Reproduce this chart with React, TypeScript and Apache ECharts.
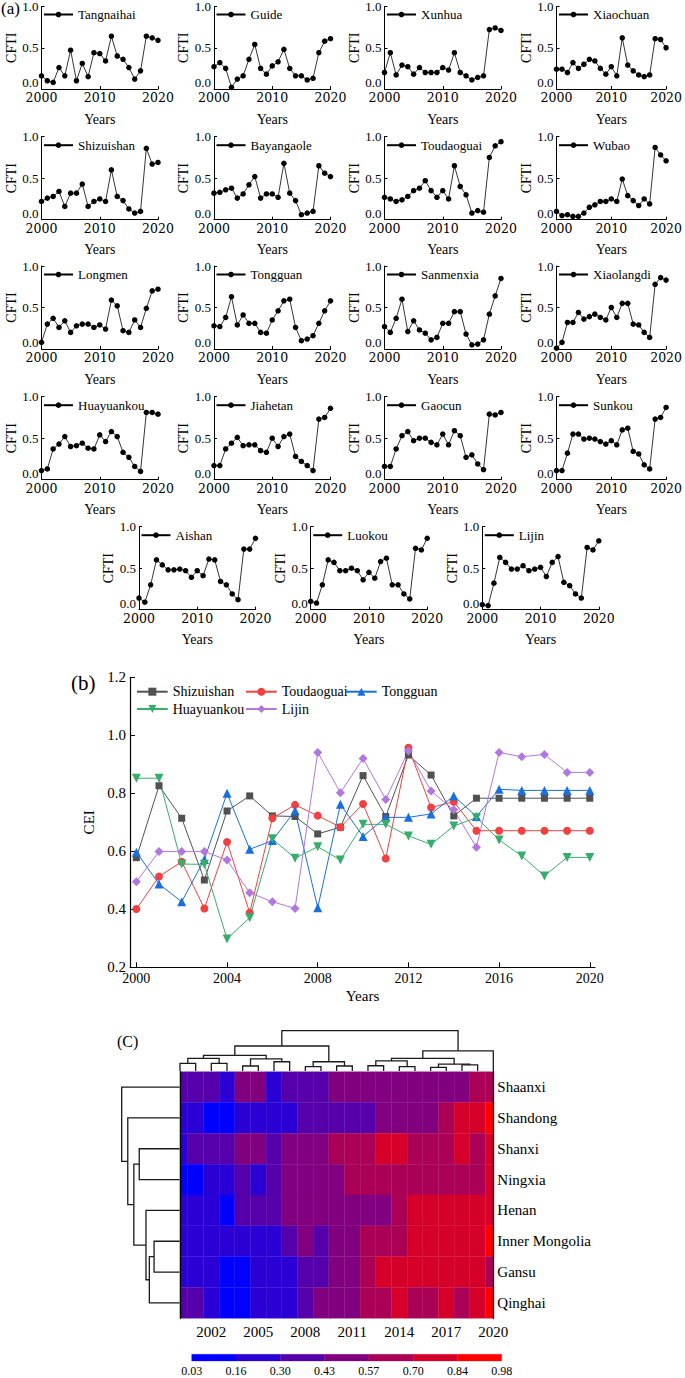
import React, { useEffect, useRef } from "react";
import * as echarts from "echarts";

const FONT = "'Liberation Serif', 'Times New Roman', serif";

const YEARS = [2000, 2001, 2002, 2003, 2004, 2005, 2006, 2007, 2008, 2009, 2010, 2011, 2012, 2013, 2014, 2015, 2016, 2017, 2018, 2019, 2020];

// (a) CFTI per station
const TANGNAIHAI = [0.16, 0.10, 0.08, 0.26, 0.16, 0.47, 0.10, 0.31, 0.15, 0.44, 0.43, 0.34, 0.64, 0.40, 0.36, 0.26, 0.12, 0.22, 0.64, 0.62, 0.59];
const GUIDE = [0.27, 0.32, 0.25, 0.02, 0.12, 0.16, 0.36, 0.54, 0.25, 0.18, 0.28, 0.33, 0.48, 0.25, 0.16, 0.16, 0.11, 0.13, 0.44, 0.58, 0.61];
const XUNHUA = [0.20, 0.44, 0.17, 0.29, 0.27, 0.18, 0.26, 0.20, 0.20, 0.20, 0.26, 0.23, 0.44, 0.20, 0.16, 0.11, 0.14, 0.16, 0.72, 0.74, 0.71];
const XIAOCHUAN = [0.24, 0.24, 0.20, 0.32, 0.25, 0.30, 0.36, 0.34, 0.25, 0.18, 0.27, 0.16, 0.62, 0.29, 0.22, 0.17, 0.15, 0.17, 0.61, 0.60, 0.50];
const SHIZUISHAN = [0.22, 0.26, 0.28, 0.34, 0.16, 0.32, 0.32, 0.43, 0.16, 0.22, 0.25, 0.22, 0.60, 0.28, 0.23, 0.13, 0.08, 0.10, 0.86, 0.67, 0.69];
const BAYANGAOLE = [0.32, 0.33, 0.36, 0.38, 0.26, 0.31, 0.42, 0.52, 0.26, 0.31, 0.31, 0.27, 0.68, 0.32, 0.23, 0.06, 0.08, 0.10, 0.65, 0.56, 0.52];
const TOUDAOGUAI = [0.27, 0.25, 0.22, 0.24, 0.28, 0.35, 0.38, 0.47, 0.35, 0.27, 0.35, 0.25, 0.65, 0.40, 0.30, 0.08, 0.11, 0.09, 0.75, 0.89, 0.94];
const WUBAO = [0.10, 0.05, 0.06, 0.04, 0.04, 0.08, 0.15, 0.18, 0.22, 0.22, 0.25, 0.22, 0.49, 0.29, 0.23, 0.17, 0.25, 0.19, 0.87, 0.78, 0.71];
const LONGMEN = [0.08, 0.30, 0.37, 0.26, 0.34, 0.20, 0.28, 0.30, 0.30, 0.26, 0.29, 0.24, 0.59, 0.52, 0.22, 0.20, 0.35, 0.26, 0.49, 0.70, 0.72];
const TONGGUAN = [0.28, 0.27, 0.38, 0.63, 0.29, 0.41, 0.31, 0.31, 0.20, 0.19, 0.35, 0.46, 0.58, 0.60, 0.26, 0.10, 0.12, 0.16, 0.31, 0.46, 0.58];
const SANMENXIA = [0.27, 0.20, 0.37, 0.60, 0.21, 0.34, 0.23, 0.19, 0.11, 0.14, 0.31, 0.31, 0.45, 0.45, 0.18, 0.05, 0.06, 0.11, 0.42, 0.64, 0.85];
const XIAOLANGDI = [0.01, 0.08, 0.32, 0.32, 0.44, 0.36, 0.39, 0.42, 0.38, 0.35, 0.50, 0.38, 0.55, 0.55, 0.30, 0.29, 0.20, 0.14, 0.78, 0.86, 0.83];
const HUAYUANKOU = [0.11, 0.13, 0.37, 0.43, 0.52, 0.40, 0.41, 0.44, 0.38, 0.37, 0.54, 0.46, 0.58, 0.52, 0.33, 0.27, 0.16, 0.10, 0.81, 0.81, 0.79];
const JIAHETAN = [0.17, 0.17, 0.37, 0.44, 0.51, 0.41, 0.42, 0.42, 0.35, 0.33, 0.50, 0.40, 0.52, 0.55, 0.28, 0.22, 0.17, 0.11, 0.73, 0.75, 0.86];
const GAOCUN = [0.16, 0.16, 0.37, 0.53, 0.58, 0.47, 0.50, 0.50, 0.45, 0.42, 0.55, 0.42, 0.59, 0.53, 0.27, 0.30, 0.19, 0.12, 0.79, 0.78, 0.81];
const SUNKOU = [0.11, 0.11, 0.32, 0.55, 0.55, 0.49, 0.50, 0.49, 0.46, 0.43, 0.47, 0.42, 0.60, 0.62, 0.34, 0.31, 0.18, 0.13, 0.73, 0.75, 0.87];
const AISHAN = [0.14, 0.09, 0.30, 0.60, 0.54, 0.48, 0.48, 0.49, 0.47, 0.39, 0.47, 0.41, 0.61, 0.60, 0.34, 0.30, 0.19, 0.12, 0.73, 0.73, 0.86];
const LUOKOU = [0.10, 0.08, 0.30, 0.60, 0.57, 0.47, 0.47, 0.50, 0.47, 0.36, 0.45, 0.38, 0.58, 0.62, 0.30, 0.30, 0.19, 0.13, 0.74, 0.72, 0.86];
const LIJIN = [0.06, 0.05, 0.32, 0.63, 0.57, 0.49, 0.49, 0.53, 0.47, 0.49, 0.51, 0.40, 0.57, 0.64, 0.33, 0.29, 0.19, 0.14, 0.75, 0.72, 0.83];

const SMALL_NAMES = ["Tangnaihai", "Guide", "Xunhua", "Xiaochuan", "Shizuishan", "Bayangaole", "Toudaoguai", "Wubao", "Longmen", "Tongguan", "Sanmenxia", "Xiaolangdi", "Huayuankou", "Jiahetan", "Gaocun", "Sunkou", "Aishan", "Luokou", "Lijin"];
const SMALL_DATA = [TANGNAIHAI, GUIDE, XUNHUA, XIAOCHUAN, SHIZUISHAN, BAYANGAOLE, TOUDAOGUAI, WUBAO, LONGMEN, TONGGUAN, SANMENXIA, XIAOLANGDI, HUAYUANKOU, JIAHETAN, GAOCUN, SUNKOU, AISHAN, LUOKOU, LIJIN];

// (b) CEI
const CEI_NAMES = ["Shizuishan", "Toudaoguai", "Tongguan", "Huayuankou", "Lijin"];
const CEI_SHIZUISHAN = [0.578, 0.826, 0.714, 0.501, 0.739, 0.791, 0.722, 0.720, 0.660, 0.683, 0.861, 0.720, 0.932, 0.863, 0.722, 0.783, 0.783, 0.783, 0.783, 0.783, 0.783];
const CEI_TOUDAOGUAI = [0.401, 0.513, 0.564, 0.403, 0.632, 0.388, 0.714, 0.760, 0.723, 0.683, 0.763, 0.575, 0.957, 0.751, 0.771, 0.671, 0.671, 0.671, 0.671, 0.671, 0.671];
const CEI_TONGGUAN = [0.597, 0.487, 0.426, 0.572, 0.800, 0.607, 0.637, 0.740, 0.405, 0.762, 0.651, 0.717, 0.717, 0.729, 0.791, 0.720, 0.814, 0.810, 0.810, 0.810, 0.810];
const CEI_HUAYUANKOU = [0.852, 0.852, 0.556, 0.555, 0.298, 0.371, 0.643, 0.576, 0.616, 0.570, 0.693, 0.693, 0.653, 0.624, 0.687, 0.716, 0.639, 0.584, 0.515, 0.579, 0.579];
const CEI_LIJIN = [0.495, 0.599, 0.599, 0.599, 0.570, 0.457, 0.426, 0.403, 0.941, 0.802, 0.920, 0.779, 0.946, 0.808, 0.743, 0.614, 0.941, 0.926, 0.934, 0.872, 0.872];
const CEI_DATA = [CEI_SHIZUISHAN, CEI_TOUDAOGUAI, CEI_TONGGUAN, CEI_HUAYUANKOU, CEI_LIJIN];
const CEI_COLORS = ["#515151", "#F14040", "#1A6FDF", "#37AD6B", "#B177DE"];
const CEI_SYMBOLS = ["rect", "circle", "triangle", "triangle", "diamond"];
const CEI_ROTATE = [0, 0, 0, 180, 0];
const CEI_SIZES = [7, 8, 9, 9, 9];
const CEI_TICKS = [2000, 2004, 2008, 2012, 2016, 2020];

// (c) heatmap
const PROVINCES = ["Shaanxi", "Shandong", "Shanxi", "Ningxia", "Henan", "Inner Mongolia", "Gansu", "Qinghai"];
const HEAT_SHAANXI = [0.37, 0.36, 0.38, 0.24, 0.50, 0.52, 0.22, 0.36, 0.38, 0.39, 0.48, 0.50, 0.51, 0.49, 0.52, 0.50, 0.53, 0.51, 0.55, 0.62, 0.60];
const HEAT_SHANDONG = [0.22, 0.24, 0.10, 0.08, 0.21, 0.23, 0.25, 0.27, 0.34, 0.35, 0.37, 0.38, 0.40, 0.46, 0.49, 0.51, 0.54, 0.64, 0.76, 0.79, 0.93];
const HEAT_SHANXI = [0.27, 0.36, 0.38, 0.40, 0.47, 0.50, 0.40, 0.48, 0.51, 0.54, 0.62, 0.64, 0.66, 0.75, 0.78, 0.66, 0.64, 0.68, 0.76, 0.67, 0.72];
const HEAT_NINGXIA = [0.05, 0.12, 0.20, 0.25, 0.33, 0.26, 0.35, 0.45, 0.48, 0.50, 0.55, 0.60, 0.62, 0.63, 0.65, 0.66, 0.64, 0.67, 0.68, 0.66, 0.72];
const HEAT_HENAN = [0.18, 0.20, 0.24, 0.12, 0.33, 0.36, 0.40, 0.45, 0.47, 0.49, 0.51, 0.52, 0.53, 0.55, 0.63, 0.72, 0.74, 0.76, 0.78, 0.80, 0.82];
const HEAT_INNER_MONGOLIA = [0.17, 0.19, 0.21, 0.22, 0.24, 0.26, 0.28, 0.38, 0.46, 0.40, 0.49, 0.54, 0.60, 0.64, 0.68, 0.72, 0.75, 0.77, 0.79, 0.82, 0.90];
const HEAT_GANSU = [0.20, 0.22, 0.24, 0.05, 0.10, 0.18, 0.24, 0.28, 0.34, 0.41, 0.47, 0.54, 0.66, 0.72, 0.75, 0.77, 0.79, 0.81, 0.80, 0.78, 0.66];
const HEAT_QINGHAI = [0.32, 0.35, 0.25, 0.04, 0.06, 0.18, 0.22, 0.27, 0.37, 0.45, 0.50, 0.55, 0.60, 0.65, 0.74, 0.68, 0.62, 0.73, 0.66, 0.79, 0.92];
const HEAT_ROWS = [HEAT_SHAANXI, HEAT_SHANDONG, HEAT_SHANXI, HEAT_NINGXIA, HEAT_HENAN, HEAT_INNER_MONGOLIA, HEAT_GANSU, HEAT_QINGHAI];
const HEAT_TICKS = [2002, 2005, 2008, 2011, 2014, 2017, 2020];
const COLORBAR_LABELS = ["0.03", "0.16", "0.30", "0.43", "0.57", "0.70", "0.84", "0.98"];
const COLORBAR_COLORS = ["#0000ff", "#2a00d5", "#5500aa", "#800080", "#aa0055", "#d5002a", "#ff0000"];

// dendrograms: [childA, childB, height]; ids < leaf count are leaves
const COL_MERGES = [
  [0, 1, 0.19], [2, 3, 0.19], [4, 5, 0.124], [6, 7, 0.23], [21, 22, 0.315], [23, 24, 0.3],
  [25, 26, 0.39], [8, 9, 0.107], [10, 11, 0.124], [28, 29, 0.23], [27, 30, 0.62],
  [12, 13, 0.13], [14, 15, 0.107], [32, 33, 0.25], [16, 17, 0.09], [18, 19, 0.15],
  [35, 36, 0.17], [34, 37, 0.315], [38, 20, 0.5], [31, 39, 1.0],
];
const ROW_MERGES = [
  [2, 3, 120], [5, 6, 76], [9, 7, 90], [4, 10, 100], [8, 11, 136], [1, 12, 154], [0, 13, 172],
];

function buildLinks(merges: number[][], leafPos: number[]) {
  const pos = [...leafPos];
  const hts = leafPos.map(() => 0);
  const links: number[][] = [];
  merges.forEach(([a, b, h]) => {
    links.push([pos[a], hts[a], pos[b], hts[b], h]);
    pos.push((pos[a] + pos[b]) / 2);
    hts.push(h);
  });
  return links;
}

function binColor(v: number) {
  const thr = COLORBAR_LABELS.map(Number);
  for (let i = 0; i < COLORBAR_COLORS.length; i++) {
    if (v < thr[i + 1]) return COLORBAR_COLORS[i];
  }
  return COLORBAR_COLORS[COLORBAR_COLORS.length - 1];
}

// layout
const COL_LEFTS = [41.5, 214, 384.5, 556.5];
const ROW5_LEFTS = [139, 310.7, 482.3];
const ROW_TOPS = [6, 136.7, 266, 396.7, 526.7];
const SMALL_W = 116.5;
const SMALL_H = 83;

function buildOption() {
  const grid: any[] = [];
  const xAxis: any[] = [];
  const yAxis: any[] = [];
  const series: any[] = [];
  const legend: any[] = [];

  SMALL_NAMES.forEach((name, i) => {
    const row = Math.floor(i / 4);
    const left = row < 4 ? COL_LEFTS[i % 4] : ROW5_LEFTS[i - 16];
    const top = ROW_TOPS[row];
    grid.push({ left, top, width: SMALL_W, height: SMALL_H });
    xAxis.push({
      gridIndex: i, type: "value", min: 2000, max: 2020, interval: 10,
      name: "Years", nameLocation: "middle", nameGap: 23,
      nameTextStyle: { fontFamily: FONT, fontSize: 14, color: "#000" },
      axisLine: { onZero: false, lineStyle: { color: "#000", width: 1 } },
      axisTick: { inside: true, length: 3, lineStyle: { color: "#000" } },
      axisLabel: { fontFamily: "'DejaVu Serif', serif", fontSize: 12.5, color: "#000", margin: 2, formatter: (v: number) => String(v) },
      splitLine: { show: false },
    });
    yAxis.push({
      gridIndex: i, type: "value", min: 0, max: 1, interval: 0.5,
      name: "CFTI", nameLocation: "middle", nameGap: 22, nameRotate: 90,
      nameTextStyle: { fontFamily: FONT, fontSize: 14, color: "#000" },
      axisLine: { show: true, lineStyle: { color: "#000", width: 1 } },
      axisTick: { show: true, inside: true, length: 3, lineStyle: { color: "#000" } },
      axisLabel: {
        fontFamily: FONT, fontSize: 13, color: "#000", margin: 3,
        verticalAlignMinLabel: "bottom",
        formatter: (v: number) => v.toFixed(1),
      },
      splitLine: { show: false },
    });
    series.push({
      type: "line", name: "a:" + name, xAxisIndex: i, yAxisIndex: i,
      data: YEARS.map((y, k) => [y, SMALL_DATA[i][k]]),
      symbol: "circle", symbolSize: 5.5, showSymbol: true,
      lineStyle: { color: "#000", width: 0.8 }, itemStyle: { color: "#000" },
      silent: true,
    });
    legend.push({
      data: ["a:" + name], left: left + 1.5, top: top + 2, padding: 0,
      itemWidth: 29, itemHeight: 7, selectedMode: false,
      formatter: (n: string) => n.slice(2),
      textStyle: { fontFamily: FONT, fontSize: 13, color: "#000" },
    });
  });

  // (b)
  const gb = grid.length;
  grid.push({ left: 130, top: 677.3, width: 465, height: 290 });
  xAxis.push({
    gridIndex: gb, type: "value", min: 1999.72, max: 2020.23,
    name: "Years", nameLocation: "middle", nameGap: 21,
    nameTextStyle: { fontFamily: FONT, fontSize: 15, color: "#000" },
    axisLine: { onZero: false, lineStyle: { color: "#000", width: 1.2 } },
    axisTick: { inside: true, length: 5, customValues: CEI_TICKS, lineStyle: { color: "#000" } },
    axisLabel: { fontFamily: FONT, fontSize: 14, color: "#000", margin: 4, customValues: CEI_TICKS, formatter: (v: number) => String(v) },
    splitLine: { show: false },
  });
  yAxis.push({
    gridIndex: gb, type: "value", min: 0.2, max: 1.2, interval: 0.2,
    name: "CEI", nameLocation: "middle", nameGap: 28, nameRotate: 90,
    nameTextStyle: { fontFamily: FONT, fontSize: 15, color: "#000" },
    axisLine: { show: true, lineStyle: { color: "#000", width: 1.2 } },
    axisTick: { show: true, inside: true, length: 5, lineStyle: { color: "#000" } },
    axisLabel: { fontFamily: FONT, fontSize: 15, color: "#000", margin: 4, formatter: (v: number) => v.toFixed(1) },
    splitLine: { show: false },
  });
  const LEG_POS = [[136, 691.7], [245, 691.7], [345, 691.7], [136, 709], [245, 709]];
  CEI_NAMES.forEach((name, i) => {
    series.push({
      type: "line", name: "b:" + name, xAxisIndex: gb, yAxisIndex: gb,
      data: YEARS.map((y, k) => [y, CEI_DATA[i][k]]),
      symbol: CEI_SYMBOLS[i], symbolSize: CEI_SIZES[i], symbolRotate: CEI_ROTATE[i], showSymbol: true,
      lineStyle: { color: CEI_COLORS[i], width: 1 }, itemStyle: { color: CEI_COLORS[i] },
      silent: true,
    });
    legend.push({
      data: ["b:" + name], left: LEG_POS[i][0], top: LEG_POS[i][1] - 7, padding: 0,
      itemWidth: 30.7, itemHeight: 10, selectedMode: false,
      formatter: (n: string) => n.slice(2),
      textStyle: { fontFamily: FONT, fontSize: 14, color: "#000" },
    });
  });

  // (c) heatmap
  const gh = grid.length;
  grid.push({ left: 180, top: 1071.7, width: 313.3, height: 246.6 });
  const xh = xAxis.length;
  xAxis.push({
    gridIndex: gh, type: "value", min: 2000, max: 2020, interval: 1, position: "bottom", z: 10,
    axisLine: { onZero: false, lineStyle: { color: "#000", width: 1.3 } },
    axisTick: { show: false }, splitLine: { show: false },
    axisLabel: { fontFamily: FONT, fontSize: 15, color: "#000", margin: 6, formatter: (v: number) => (HEAT_TICKS.includes(v) ? String(v) : "") },
  });
  xAxis.push({
    gridIndex: gh, type: "value", min: 2000, max: 2020, position: "top", z: 10,
    axisLine: { onZero: false, lineStyle: { color: "#000", width: 1.3 } },
    axisTick: { show: false }, axisLabel: { show: false }, splitLine: { show: false },
  });
  const yh = yAxis.length;
  yAxis.push({
    gridIndex: gh, type: "category", data: PROVINCES, inverse: true, position: "right", z: 10,
    axisLine: { show: true, onZero: false, lineStyle: { color: "#000", width: 1.3 } },
    axisTick: { show: false }, splitLine: { show: false },
    axisLabel: { fontFamily: FONT, fontSize: 15, color: "#000", margin: 4 },
  });
  yAxis.push({
    gridIndex: gh, type: "category", data: PROVINCES, inverse: true, position: "left", z: 10,
    axisLine: { show: true, onZero: false, lineStyle: { color: "#000", width: 1.3 } },
    axisTick: { show: false }, axisLabel: { show: false }, splitLine: { show: false },
  });
  const heatData: number[][] = [];
  HEAT_ROWS.forEach((row, r) => row.forEach((v, k) => heatData.push([YEARS[k], r, v])));
  series.push({
    type: "custom", xAxisIndex: xh, yAxisIndex: yh, data: heatData, silent: true,
    renderItem: (params: any, api: any) => {
      const c = api.coord([api.value(0), api.value(1)]);
      const s = api.size([1, 1]);
      const cs = params.coordSys;
      const rect = echarts.graphic.clipRectByRect(
        { x: c[0] - s[0] / 2, y: c[1] - s[1] / 2, width: s[0], height: s[1] },
        { x: cs.x, y: cs.y, width: cs.width, height: cs.height }
      );
      if (!rect) return null;
      const col = binColor(api.value(2));
      return { type: "rect", shape: rect, style: { fill: col, stroke: col, lineWidth: 0.3 } };
    },
  });

  // top dendrogram
  const gt = grid.length;
  grid.push({ left: 180, top: 1030.7, width: 313.3, height: 40.3 });
  const xt = xAxis.length;
  xAxis.push({ gridIndex: gt, type: "value", min: 2000, max: 2020, show: false });
  const yt = yAxis.length;
  yAxis.push({ gridIndex: gt, type: "value", min: 0, max: 1, show: false });
  series.push({
    type: "custom", xAxisIndex: xt, yAxisIndex: yt, silent: true, clip: false,
    data: buildLinks(COL_MERGES, YEARS),
    renderItem: (params: any, api: any) => {
      const xa = api.value(0), ha = api.value(1), xb = api.value(2), hb = api.value(3), h = api.value(4);
      return {
        type: "polyline",
        shape: { points: [api.coord([xa, ha]), api.coord([xa, h]), api.coord([xb, h]), api.coord([xb, hb])] },
        style: { stroke: "#1a1a1a", lineWidth: 1.3, fill: "none" },
      };
    },
  });

  // left dendrogram
  const gl = grid.length;
  grid.push({ left: 121.7, top: 1071.7, width: 58, height: 246.6 });
  const xl = xAxis.length;
  xAxis.push({ gridIndex: gl, type: "value", min: 0, max: 172, inverse: true, show: false });
  const yl = yAxis.length;
  yAxis.push({ gridIndex: gl, type: "value", min: -0.5, max: 7.5, inverse: true, show: false });
  series.push({
    type: "custom", xAxisIndex: xl, yAxisIndex: yl, silent: true, clip: false,
    data: buildLinks(ROW_MERGES, PROVINCES.map((_, i) => i)),
    renderItem: (params: any, api: any) => {
      const ya = api.value(0), da = api.value(1), yb = api.value(2), db = api.value(3), d = api.value(4);
      return {
        type: "polyline",
        shape: { points: [api.coord([da, ya]), api.coord([d, ya]), api.coord([d, yb]), api.coord([db, yb])] },
        style: { stroke: "#1a1a1a", lineWidth: 1.3, fill: "none" },
      };
    },
  });

  // colorbar
  const gc = grid.length;
  grid.push({ left: 191.7, top: 1354.3, width: 310, height: 6.7 });
  const xc = xAxis.length;
  xAxis.push({
    gridIndex: gc, type: "value", min: 0, max: 7, interval: 1,
    axisLine: { show: false }, axisTick: { show: false }, splitLine: { show: false },
    axisLabel: { fontFamily: FONT, fontSize: 12, color: "#000", margin: 4, formatter: (v: number) => COLORBAR_LABELS[Math.round(v)] },
  });
  const yc = yAxis.length;
  yAxis.push({ gridIndex: gc, type: "value", min: 0, max: 1, show: false });
  series.push({
    type: "custom", xAxisIndex: xc, yAxisIndex: yc, silent: true,
    data: COLORBAR_COLORS.map((_, i) => [i, 0]),
    renderItem: (params: any, api: any) => {
      const i = api.value(0);
      const p0 = api.coord([i, 1]);
      const p1 = api.coord([i + 1, 0]);
      return {
        type: "rect",
        shape: { x: p0[0], y: p0[1], width: p1[0] - p0[0], height: p1[1] - p0[1] },
        style: { fill: COLORBAR_COLORS[i], stroke: COLORBAR_COLORS[i], lineWidth: 0.3 },
      };
    },
  });

  return {
    animation: false,
    backgroundColor: "#fff",
    grid, xAxis, yAxis, series, legend,
    graphic: [
      { type: "text", left: 1, top: 0, style: { text: "(a)", font: `17px ${FONT}`, fill: "#000" } },
      { type: "text", left: 71, top: 672, style: { text: "(b)", font: `21px ${FONT}`, fill: "#000" } },
      { type: "text", left: 117, top: 1033, style: { text: "(C)", font: `16px ${FONT}`, fill: "#000" } },
    ],
  };
}

export default function App() {
  const ref = useRef<HTMLDivElement>(null);
  useEffect(() => {
    if (!ref.current) return;
    const chart = echarts.init(ref.current, null, { renderer: "svg" });
    chart.setOption(buildOption() as any);
    return () => chart.dispose();
  }, []);
  return (
    <div
      ref={ref}
      style={{ position: "absolute", left: 0, top: 0, width: 685, height: 1378, background: "#fff" }}
    />
  );
}
